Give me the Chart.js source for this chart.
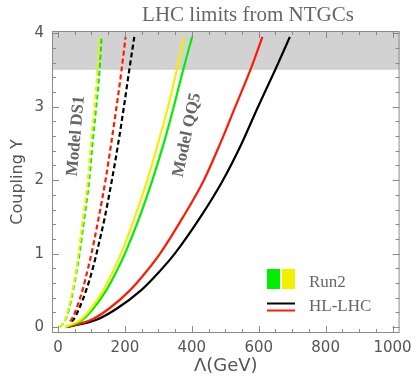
<!DOCTYPE html>
<html>
<head>
<meta charset="utf-8">
<script src="https://cdn.jsdelivr.net/npm/chart.js@4.4.0/dist/chart.umd.min.js"></script>
<style>
  html, body { margin: 0; padding: 0; background: #fff; }
  #wrap { width: 418px; height: 377px; }
</style>
</head>
<body>
<div id="wrap"><canvas id="ntgc-chart" width="418" height="377"></canvas></div>
<script>
const couplingLevels = [0, 0.1, 0.25, 0.5, 0.75, 1, 1.5, 2, 2.5, 3, 3.5, 3.95];
const ds1HlLevels = [0.08, 0.1, 0.25, 0.5, 0.75, 1, 1.5, 2, 2.5, 3, 3.5, 3.95];

// Lambda (GeV) at each level
const ds1Run2Yellow = [6, 21, 31, 43, 53, 61, 75, 89, 98, 109, 118, 123];
const ds1Run2Green = [6, 22, 33, 45, 55, 64, 79, 93, 103, 114, 124, 130];
const ds1HlRed = [36, 40, 55, 73, 87, 100, 122, 142, 159, 175, 190, 202];
const ds1HlBlack = [40, 46, 63, 84, 101, 115, 140, 161, 180, 197, 213, 228];

const qq5Run2Yellow = [20, 67, 98, 135, 163, 188, 230, 267, 299, 329, 355, 376];
const qq5Run2Green = [22, 73, 105, 144, 174, 200, 244, 282, 316, 346, 374, 401];
const qq5HlRed = [24, 100, 152, 215, 263, 305, 374, 436, 485, 530, 575, 611];
const qq5HlBlack = [26, 115, 175, 248, 302, 349, 426, 493, 549, 598, 649, 693];

const xTicks = [0, 200, 400, 600, 800, 1000];
const yTicks = [0, 1, 2, 3, 4];
const excludedBand = [3.52, 4.03];

const GREEN = '#00ee00';
const YELLOW = '#f2f000';
const RED = '#ff1a00';
const BLACK = '#000000';
const GREY_TEXT = '#666666';

const toPoints = (lambdas, levels) => lambdas.map((l, i) => ({ x: l, y: levels[i] }));

const makeSet = (label, lambdas, levels, color, dashed) => ({
    label: label,
    data: toPoints(lambdas, levels),
    borderColor: color,
    borderWidth: 2.2,
    borderDash: dashed ? [5, 3] : [],
    pointRadius: 0,
    fill: false,
    cubicInterpolationMode: 'monotone'
});

// grey band for the LHC NTGC limit
const bandPlugin = {
    id: 'band',
    beforeDatasetsDraw(chart) {
        const { ctx, chartArea, scales } = chart;
        const yTop = scales.y.getPixelForValue(excludedBand[1]);
        const yBot = scales.y.getPixelForValue(excludedBand[0]);
        ctx.save();
        ctx.fillStyle = '#d2d2d2';
        ctx.fillRect(chartArea.left, yTop, chartArea.right - chartArea.left, yBot - yTop);
        ctx.strokeStyle = '#b5b5b5';
        ctx.lineWidth = 1;
        ctx.beginPath();
        ctx.moveTo(chartArea.left, yBot + 0.5);
        ctx.lineTo(chartArea.right, yBot + 0.5);
        ctx.stroke();
        ctx.restore();
    }
};

// frame with inward ticks on every side
const framePlugin = {
    id: 'frame',
    afterDatasetsDraw(chart) {
        const { ctx, chartArea, scales } = chart;
        const { left, right, top, bottom } = chartArea;
        ctx.save();
        ctx.strokeStyle = '#8a8a8a';
        ctx.lineWidth = 1;
        ctx.strokeRect(left + 0.5, top + 0.5, right - left - 1, bottom - top - 1);
        ctx.beginPath();
        for (let v = 0; v <= 1000; v += 50) {
            const x = Math.round(scales.x.getPixelForValue(v)) + 0.5;
            const len = v % 200 === 0 ? 7 : 4;
            ctx.moveTo(x, bottom); ctx.lineTo(x, bottom - len);
            ctx.moveTo(x, top); ctx.lineTo(x, top + len);
        }
        for (let i = 0; i <= 20; i++) {
            const v = i / 5;
            const y = Math.round(scales.y.getPixelForValue(v)) + 0.5;
            const len = i % 5 === 0 ? 7 : 4;
            ctx.moveTo(left, y); ctx.lineTo(left + len, y);
            ctx.moveTo(right, y); ctx.lineTo(right - len, y);
        }
        ctx.stroke();
        ctx.restore();
    }
};

// title, model labels and legend
const labelPlugin = {
    id: 'labels',
    afterDraw(chart) {
        const { ctx } = chart;
        ctx.save();
        ctx.fillStyle = GREY_TEXT;
        ctx.textAlign = 'center';
        ctx.textBaseline = 'middle';
        ctx.font = '21px "Liberation Serif"';
        ctx.fillText('LHC limits from NTGCs', 248, 15);

        ctx.font = 'bold 17px "Liberation Serif"';
        ctx.save();
        ctx.translate(76, 136);
        ctx.rotate(-85 * Math.PI / 180);
        ctx.fillText('Model DS1', 0, 0);
        ctx.restore();
        ctx.save();
        ctx.translate(187, 135);
        ctx.rotate(-78 * Math.PI / 180);
        ctx.fillText('Model QQ5', 0, 0);
        ctx.restore();

        // legend
        ctx.fillStyle = GREEN;
        ctx.fillRect(267, 269, 13, 20);
        ctx.fillStyle = YELLOW;
        ctx.fillRect(282, 269, 13, 20);
        ctx.lineWidth = 2;
        ctx.strokeStyle = BLACK;
        ctx.beginPath(); ctx.moveTo(267, 303.5); ctx.lineTo(295, 303.5); ctx.stroke();
        ctx.strokeStyle = RED;
        ctx.beginPath(); ctx.moveTo(267, 310.5); ctx.lineTo(295, 310.5); ctx.stroke();
        ctx.fillStyle = GREY_TEXT;
        ctx.textAlign = 'left';
        ctx.font = '17px "Liberation Serif"';
        ctx.fillText('Run2', 309, 283);
        ctx.fillText('HL-LHC', 309, 307);
        ctx.restore();
    }
};

const ctx = document.getElementById('ntgc-chart').getContext('2d');
const ntgcChart = new Chart(ctx, {
    type: 'line',
    data: {
        datasets: [
            makeSet('DS1 Run2 (a)', ds1Run2Yellow, couplingLevels, YELLOW, true),
            makeSet('DS1 Run2 (b)', ds1Run2Green, couplingLevels, GREEN, true),
            makeSet('DS1 HL-LHC (a)', ds1HlRed, ds1HlLevels, RED, true),
            makeSet('DS1 HL-LHC (b)', ds1HlBlack, ds1HlLevels, BLACK, true),
            makeSet('QQ5 Run2 (a)', qq5Run2Yellow, couplingLevels, YELLOW, false),
            makeSet('QQ5 Run2 (b)', qq5Run2Green, couplingLevels, GREEN, false),
            makeSet('QQ5 HL-LHC (a)', qq5HlRed, couplingLevels, RED, false),
            makeSet('QQ5 HL-LHC (b)', qq5HlBlack, couplingLevels, BLACK, false)
        ]
    },
    options: {
        responsive: false,
        animation: false,
        devicePixelRatio: 1,
        layout: { padding: { top: 31, right: 18, left: 0, bottom: 0 } },
        plugins: {
            legend: { display: false },
            tooltip: { enabled: false },
            title: { display: false }
        },
        scales: {
            x: {
                type: 'linear',
                min: -18,
                max: 1021,
                afterBuildTicks: (axis) => { axis.ticks = xTicks.map(v => ({ value: v })); },
                afterFit: (axis) => { axis.height = 44; },
                grid: { display: false, drawTicks: false },
                border: { display: false },
                ticks: {
                    color: '#555',
                    font: { family: 'DejaVu Sans', size: 15 },
                    padding: 6,
                    maxRotation: 0,
                    callback: (v) => String(v)
                },
                title: {
                    display: true,
                    text: 'Λ(GeV)',
                    color: '#555',
                    font: { family: 'DejaVu Sans', size: 18 },
                    padding: { top: 5, bottom: 0 }
                }
            },
            y: {
                type: 'linear',
                min: -0.08,
                max: 4.03,
                afterBuildTicks: (axis) => { axis.ticks = yTicks.map(v => ({ value: v })); },
                afterFit: (axis) => { axis.width = 52; },
                grid: { display: false, drawTicks: false },
                border: { display: false },
                ticks: {
                    color: '#555',
                    font: { family: 'DejaVu Sans', size: 15 },
                    padding: 8
                },
                title: {
                    display: true,
                    text: 'Coupling Y',
                    color: '#555',
                    font: { family: 'DejaVu Sans', size: 16 },
                    padding: { top: 8, bottom: 0 }
                }
            }
        }
    },
    plugins: [bandPlugin, framePlugin, labelPlugin]
});
</script>
</body>
</html>
